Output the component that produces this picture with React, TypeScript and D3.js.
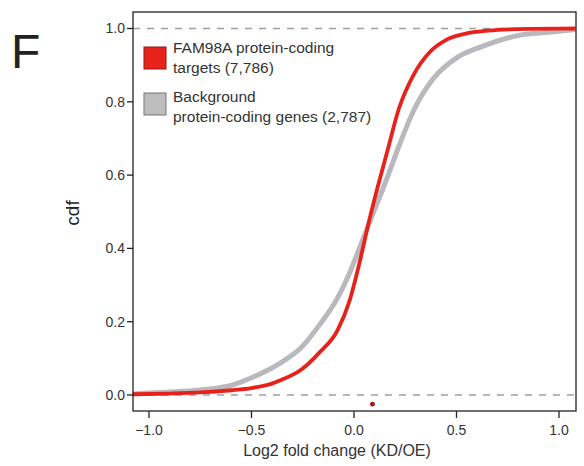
import React from "react";
import * as d3 from "d3";

// cdf curves: [log2 fold change, cumulative fraction]
const targetsCdf: [number, number][] = [
  [-1.08, 0.002], [-0.9, 0.004], [-0.75, 0.007], [-0.6, 0.013], [-0.5, 0.019],
  [-0.4, 0.031], [-0.35, 0.042], [-0.26, 0.068], [-0.17, 0.115], [-0.08, 0.177],
  [-0.02, 0.26], [0.02, 0.345], [0.08, 0.49], [0.12, 0.577], [0.16, 0.66],
  [0.22, 0.783], [0.29, 0.873], [0.37, 0.936], [0.45, 0.969], [0.56, 0.988],
  [0.7, 0.996], [0.85, 0.999], [1.08, 1.0],
];
const backgroundCdf: [number, number][] = [
  [-1.08, 0.003], [-0.9, 0.008], [-0.75, 0.014], [-0.6, 0.026], [-0.5, 0.047],
  [-0.36, 0.087], [-0.26, 0.128], [-0.17, 0.19], [-0.08, 0.265], [-0.02, 0.335],
  [0.04, 0.42], [0.1, 0.505], [0.16, 0.59], [0.22, 0.68], [0.29, 0.775],
  [0.385, 0.862], [0.5, 0.92], [0.62, 0.95], [0.81, 0.982], [0.95, 0.99], [1.08, 0.997],
];
const markerPoint: [number, number] = [0.09, -0.025];

const xTicks = [-1.0, -0.5, 0.0, 0.5, 1.0];
const yTicks = [0.0, 0.2, 0.4, 0.6, 0.8, 1.0];
const refLines = [0, 1];

const legendItems = [
  { lines: ["FAM98A protein-coding", "targets (7,786)"], fill: "#e8221b", stroke: "#8a1a14" },
  { lines: ["Background", "protein-coding genes (2,787)"], fill: "#bdbdbd", stroke: "#777" },
];

const W = 584, H = 466;
const box = { left: 133, top: 12, right: 576, bottom: 411 };
const font = "'Liberation Sans', Arial, Helvetica, sans-serif";

export default function App() {
  const x = d3.scaleLinear().domain([0, 1]).range([354, 559]);
  const y = d3.scaleLinear().domain([0, 1]).range([395, 28.5]);

  const line = d3.line<[number, number]>()
    .x(d => x(d[0]))
    .y(d => y(d[1]))
    .curve(d3.curveMonotoneX);

  return (
    <svg width={W} height={H} style={{ position: "absolute", left: 0, top: 0, background: "#fff" }}
      fontFamily={font}>
      <text x={11} y={68} fontSize={48} fill="#222" fontWeight={300}>F</text>

      {refLines.map(v => (
        <line key={v} x1={box.left} x2={box.right} y1={y(v)} y2={y(v)}
          stroke="#a0a0a0" strokeWidth={1.3} strokeDasharray="7,7" />
      ))}

      <path d={line(backgroundCdf) || ""} fill="none" stroke="#b9b9bd" strokeWidth={5} />
      <path d={line(targetsCdf) || ""} fill="none" stroke="#e8221b" strokeWidth={3.8} />

      <circle cx={x(markerPoint[0])} cy={y(markerPoint[1])} r={2.4} fill="#a01515" />

      <rect x={box.left} y={box.top} width={box.right - box.left} height={box.bottom - box.top}
        fill="none" stroke="#222" strokeWidth={1.3} />

      {yTicks.map(t => (
        <g key={t}>
          <line x1={box.left - 6} x2={box.left} y1={y(t)} y2={y(t)} stroke="#222" strokeWidth={1.3} />
          <text x={box.left - 8} y={y(t)} dy="0.35em" textAnchor="end" fontSize={14} fill="#333">
            {d3.format(".1f")(t)}
          </text>
        </g>
      ))}
      {xTicks.map(t => (
        <g key={t}>
          <line x1={x(t)} x2={x(t)} y1={box.bottom} y2={box.bottom + 7} stroke="#222" strokeWidth={1.3} />
          <text x={x(t)} y={430} dy="0.35em" textAnchor="middle" fontSize={14} fill="#333">
            {d3.format(".1f")(t).replace("-", "\u2212")}
          </text>
        </g>
      ))}

      <text x={337} y={450} dy="0.35em" textAnchor="middle" fontSize={16} fill="#333">
        Log2 fold change (KD/OE)
      </text>
      <text transform="translate(72,213) rotate(-90)" dy="0.35em" textAnchor="middle" fontSize={19} fill="#222">
        cdf
      </text>

      {legendItems.map((item, i) => {
        const base = [53, 102][i];
        return (
          <g key={i}>
            <rect x={144} y={base - 6 - (i === 0 ? 0 : 3)} width={22} height={22}
              fill={item.fill} stroke={item.stroke} strokeWidth={1} />
            {item.lines.map((l, j) => (
              <text key={j} x={173} y={base + j * 20} fontSize={15.5} fill="#333">{l}</text>
            ))}
          </g>
        );
      })}
    </svg>
  );
}
